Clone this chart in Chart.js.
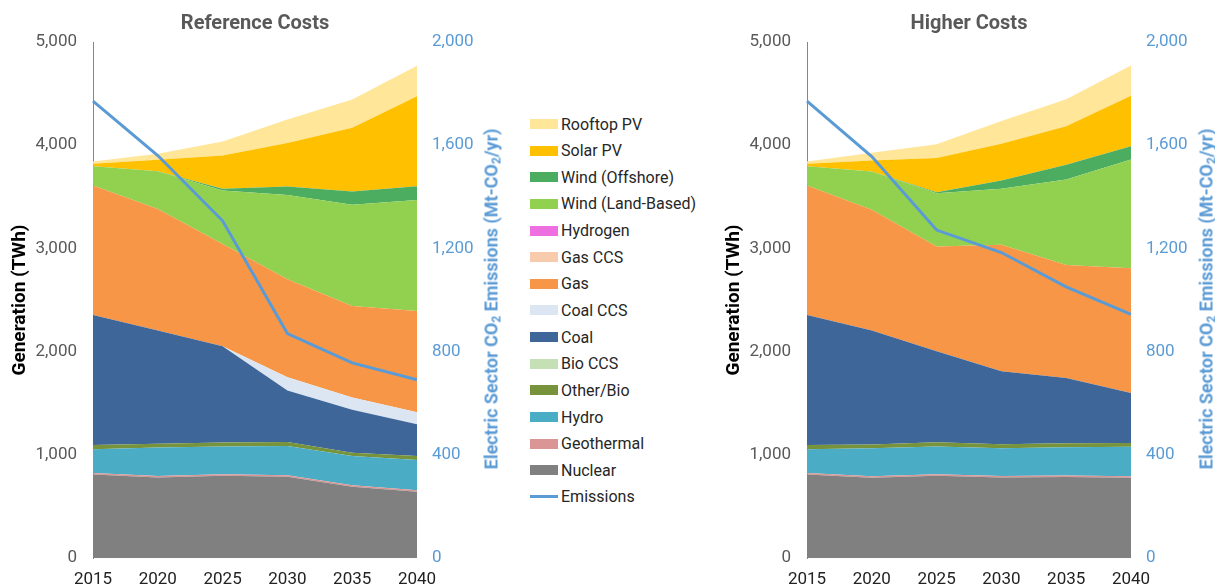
<!DOCTYPE html>
<html>
<head>
<meta charset="utf-8">
<script src="https://cdn.jsdelivr.net/npm/chart.js@4.4.0/dist/chart.umd.min.js"></script>
<style>
    body { margin: 0; width: 1215px; height: 585px; overflow: hidden; background: #fff; font-family: Roboto, sans-serif; }
    .panel { position: absolute; top: 0; }
    .y2title { position: absolute; top: 299px; transform: translate(-50%, -50%) rotate(-90deg); white-space: nowrap; font: bold 18px Roboto, sans-serif; color: #5b9bd5; }
    .y2title sub { font-size: 12px; vertical-align: -3px; line-height: 0; }
    .legend-row { position: absolute; left: 530px; height: 20px; display: flex; align-items: center; font: 16px Roboto, sans-serif; color: #262626; white-space: nowrap; }
    .legend-row .sw { width: 28px; height: 10px; margin-right: 3px; }
    .legend-row .ln { width: 28px; height: 3px; margin-right: 3px; }
</style>
</head>
<body>
<canvas id="refChart" class="panel" style="left:0px" width="505" height="585"></canvas>
<canvas id="highChart" class="panel" style="left:714px" width="501" height="585"></canvas>
<div class="y2title" style="left:491px">Electric Sector CO<sub>2</sub> Emissions (Mt-CO<sub>2</sub>/yr)</div>
<div class="y2title" style="left:1206px">Electric Sector CO<sub>2</sub> Emissions (Mt-CO<sub>2</sub>/yr)</div>
<div id="legend"></div>
<script>
const years = ['2015', '2020', '2025', '2030', '2035', '2040'];

// Reference Costs, TWh
const refNuclear = [810, 781, 798, 788, 690, 642];
const refGeothermal = [14, 14, 14, 14, 14, 14];
const refHydro = [230, 275, 268, 284, 285, 294];
const refOtherBio = [42, 36, 39, 39, 32, 39];
const refBioCCS = [0, 0, 0, 0, 0, 0];
const refCoal = [1258, 1099, 934, 499, 416, 308];
const refCoalCCS = [0, 0, 0, 127, 119, 116];
const refGas = [1255, 1177, 989, 950, 886, 980];
const refGasCCS = [0, 0, 0, 0, 0, 0];
const refHydrogen = [0, 0, 0, 0, 0, 0];
const refWindLand = [188, 366, 518, 817, 982, 1077];
const refWindOff = [0, 0, 17, 81, 127, 132];
const refSolar = [23, 111, 324, 422, 619, 873];
const refRooftop = [22, 58, 136, 227, 272, 295];
const refEmissions = [1771, 1560, 1307, 870, 756, 691];

// Higher Costs, TWh
const highNuclear = [810, 778, 798, 781, 785, 778];
const highGeothermal = [14, 14, 14, 14, 14, 14];
const highHydro = [230, 272, 268, 269, 274, 285];
const highOtherBio = [42, 35, 42, 38, 39, 38];
const highBioCCS = [0, 0, 0, 0, 0, 0];
const highCoal = [1258, 1106, 882, 707, 632, 483];
const highCoalCCS = [0, 0, 0, 0, 0, 0];
const highGas = [1255, 1170, 1015, 1226, 1096, 1210];
const highGasCCS = [0, 0, 0, 0, 0, 0];
const highHydrogen = [0, 0, 0, 0, 0, 0];
const highWindLand = [188, 370, 515, 542, 827, 1054];
const highWindOff = [0, 0, 10, 81, 143, 129];
const highSolar = [23, 107, 331, 356, 373, 487];
const highRooftop = [22, 75, 133, 221, 263, 295];
const highEmissions = [1771, 1556, 1271, 1184, 1051, 944];

const genTicks = { min: 0, max: 5000, step: 1000 };
const co2Ticks = { min: 0, max: 2000, step: 400 };

// bottom of the stack first
const techs = [
    { label: 'Nuclear', color: '#808080', ref: refNuclear, high: highNuclear },
    { label: 'Geothermal', color: '#d99694', ref: refGeothermal, high: highGeothermal },
    { label: 'Hydro', color: '#4bacc6', ref: refHydro, high: highHydro },
    { label: 'Other/Bio', color: '#77933c', ref: refOtherBio, high: highOtherBio },
    { label: 'Bio CCS', color: '#c4e0b4', ref: refBioCCS, high: highBioCCS },
    { label: 'Coal', color: '#3e6699', ref: refCoal, high: highCoal },
    { label: 'Coal CCS', color: '#dce6f2', ref: refCoalCCS, high: highCoalCCS },
    { label: 'Gas', color: '#f79646', ref: refGas, high: highGas },
    { label: 'Gas CCS', color: '#f8cbad', ref: refGasCCS, high: highGasCCS },
    { label: 'Hydrogen', color: '#ee6fe0', ref: refHydrogen, high: highHydrogen },
    { label: 'Wind (Land-Based)', color: '#92d050', ref: refWindLand, high: highWindLand },
    { label: 'Wind (Offshore)', color: '#4cad61', ref: refWindOff, high: highWindOff },
    { label: 'Solar PV', color: '#ffc000', ref: refSolar, high: highSolar },
    { label: 'Rooftop PV', color: '#ffe699', ref: refRooftop, high: highRooftop },
];
const emissionsColor = '#5b9bd5';

function makeChart(id, title, key, emissions, rightWidth) {
    const datasets = techs.map((t, i) => ({
        label: t.label,
        data: t[key],
        backgroundColor: t.color,
        borderColor: 'rgba(0,0,0,0)',
        borderWidth: 0,
        pointRadius: 0,
        tension: 0,
        fill: i === 0 ? 'origin' : '-1',
        yAxisID: 'y',
    }));
    datasets.push({
        label: 'Emissions',
        data: emissions,
        borderColor: emissionsColor,
        borderWidth: 3,
        pointRadius: 0,
        tension: 0,
        fill: false,
        yAxisID: 'y1',
        order: -1,
    });

    return new Chart(document.getElementById(id), {
        type: 'line',
        data: { labels: years, datasets: datasets },
        options: {
            responsive: false,
            animation: false,
            layout: { padding: 0 },
            plugins: {
                legend: { display: false },
                tooltip: { enabled: false },
                title: {
                    display: true,
                    text: title,
                    fullSize: false,
                    color: '#595959',
                    font: { family: 'Roboto', size: 20, weight: 'bold' },
                    padding: { top: 12, bottom: 6 },
                },
            },
            scales: {
                x: {
                    grid: { display: false },
                    border: { display: false },
                    ticks: {
                        color: '#222',
                        font: { family: 'Roboto', size: 17 },
                        padding: 4,
                        maxRotation: 0,
                        autoSkip: false,
                    },
                    afterFit: (scale) => { scale.height = 27; },
                },
                y: {
                    stacked: true,
                    min: genTicks.min,
                    max: genTicks.max,
                    grid: { display: false, drawTicks: false },
                    border: { display: true, color: '#868686', width: 1 },
                    ticks: {
                        stepSize: genTicks.step,
                        color: '#595959',
                        font: { family: 'Roboto', size: 17 },
                        padding: 16,
                    },
                    title: {
                        display: true,
                        text: 'Generation (TWh)',
                        color: '#000',
                        font: { family: 'Roboto', size: 19, weight: 'bold' },
                        padding: { top: 9, bottom: 0 },
                    },
                    afterFit: (scale) => { scale.width = 93; },
                },
                y1: {
                    position: 'right',
                    min: co2Ticks.min,
                    max: co2Ticks.max,
                    grid: { display: false, drawTicks: false },
                    border: { display: false },
                    ticks: {
                        stepSize: co2Ticks.step,
                        color: emissionsColor,
                        font: { family: 'Roboto', size: 17 },
                        padding: 15,
                    },
                    afterFit: (scale) => { scale.width = rightWidth; },
                },
            },
        },
    });
}

makeChart('refChart', 'Reference Costs', 'ref', refEmissions, 88);
makeChart('highChart', 'Higher Costs', 'high', highEmissions, 84);

// legend, top to bottom
const legend = document.getElementById('legend');
const legendItems = techs.slice().reverse().map(t => ({ label: t.label, color: t.color, line: false }));
legendItems.push({ label: 'Emissions', color: emissionsColor, line: true });
legendItems.forEach((item, i) => {
    const row = document.createElement('div');
    row.className = 'legend-row';
    row.style.top = (124 + i * 26.64 - 10) + 'px';
    const sw = document.createElement('span');
    sw.className = item.line ? 'ln' : 'sw';
    sw.style.background = item.color;
    const txt = document.createElement('span');
    txt.textContent = item.label;
    row.appendChild(sw);
    row.appendChild(txt);
    legend.appendChild(row);
});
</script>
</body>
</html>
